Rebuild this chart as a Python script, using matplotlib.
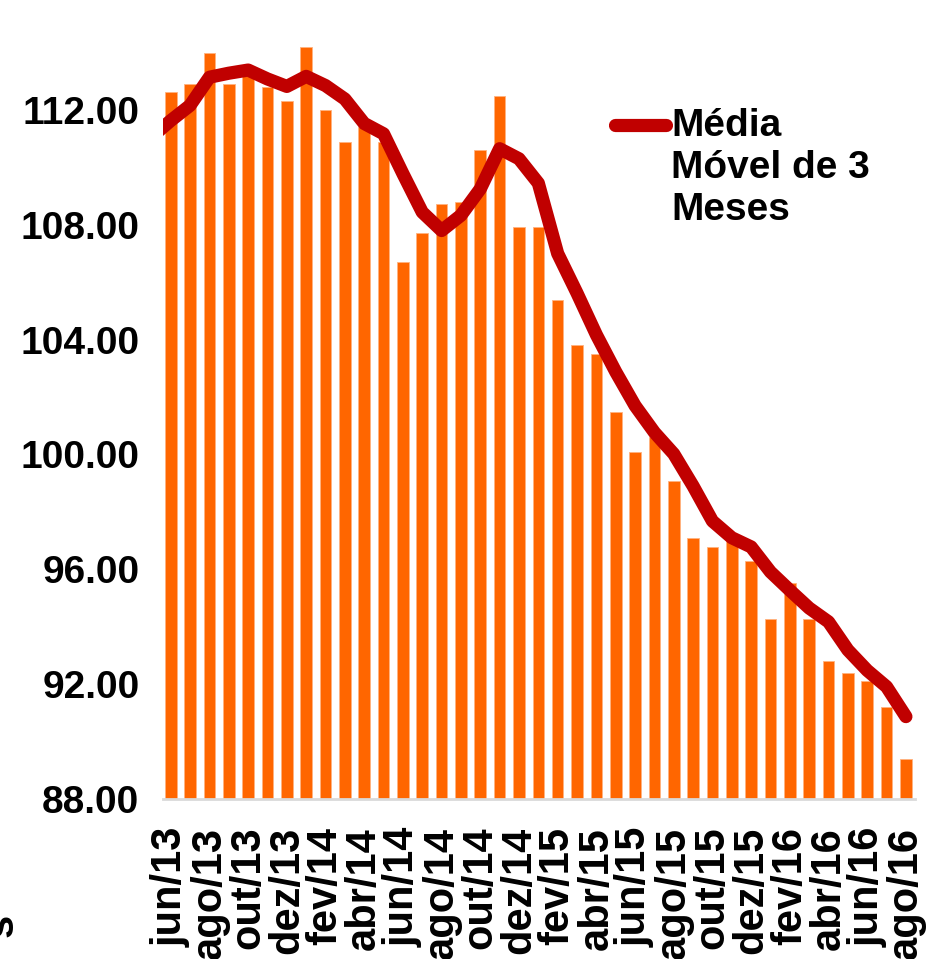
import matplotlib
matplotlib.use("Agg")
import matplotlib.pyplot as plt
from matplotlib.lines import Line2D

plt.rcParams['font.family'] = ['Liberation Sans', 'DejaVu Sans']

months = ['jun/13', 'jul/13', 'ago/13', 'set/13', 'out/13', 'nov/13', 'dez/13',
          'jan/14', 'fev/14', 'mar/14', 'abr/14', 'mai/14', 'jun/14', 'jul/14',
          'ago/14', 'set/14', 'out/14', 'nov/14', 'dez/14', 'jan/15', 'fev/15',
          'mar/15', 'abr/15', 'mai/15', 'jun/15', 'jul/15', 'ago/15', 'set/15',
          'out/15', 'nov/15', 'dez/15', 'jan/16', 'fev/16', 'mar/16', 'abr/16',
          'mai/16', 'jun/16', 'jul/16', 'ago/16']

index_values = [112.61, 112.91, 114.00, 112.91, 113.20, 112.80, 112.30, 114.20, 112.00, 110.90,
                111.40, 110.90, 106.70, 107.71, 108.71, 108.80, 110.61, 112.50, 107.91, 107.91,
                105.39, 103.80, 103.49, 101.48, 100.10, 100.61, 99.09, 97.08, 96.78, 97.20,
                96.28, 94.28, 95.51, 94.28, 92.79, 92.39, 92.10, 91.19, 89.38]

# moving average; first value belongs to the month before jun/13 (partly visible, clipped)
ma_prev = 111.05
moving_avg = [111.63, 112.16, 113.14, 113.28, 113.39, 113.08, 112.82, 113.17, 112.85, 112.38,
              111.53, 111.17, 109.78, 108.44, 107.80, 108.33, 109.25, 110.65, 110.30, 109.45,
              107.00, 105.62, 104.17, 102.88, 101.70, 100.77, 100.02, 98.90, 97.68, 97.10,
              96.78, 95.91, 95.27, 94.65, 94.17, 93.19, 92.48, 91.91, 90.87]

yticks = [88, 92, 96, 100, 104, 108, 112]
legend_label = "Média\nMóvel de 3\nMeses"

W, H = 942, 959
fig = plt.figure(figsize=(W / 100, H / 100), dpi=100)
ax = fig.add_axes([163 / W, 160 / H, (915 - 163) / W, (H - 160) / H])

x = list(range(len(months)))
ax.bar(x, [v - 88 for v in index_values], bottom=88, width=0.6,
       color='#FF6600', edgecolor='#FFB27F', linewidth=0.6, zorder=2)
ax.plot([-1] + x, [ma_prev] + moving_avg, color='#C00000', lw=9.5,
        solid_capstyle='round', solid_joinstyle='round', zorder=3)

ax.set_xlim(-0.40, 38.47)
ax.set_ylim(88, 115.83)

for s in ['top', 'right', 'left']:
    ax.spines[s].set_visible(False)
ax.spines['bottom'].set_color('#D9D9D9')
ax.spines['bottom'].set_linewidth(2)

ax.set_yticks(yticks)
ax.set_yticklabels([f"{v:.2f}" for v in yticks], fontsize=28, fontweight='bold')
ax.tick_params(axis='y', length=0, pad=17)

ax.set_xticks(x[::2])
ax.set_xticklabels(months[::2], rotation=90, fontsize=30, fontweight='bold',
                   va='top', ha='center')
ax.tick_params(axis='x', length=0, pad=20)

# legend
fig.add_artist(Line2D([615 / W, 666 / W], [1 - 125 / H, 1 - 125 / H], color='#C00000',
                      lw=9.5, solid_capstyle='round'))
fig.text(671 / W, 1 - 108 / H, legend_label, fontsize=28, fontweight='bold',
         va='top', ha='left', linespacing=1.22)

# fragment of a cut-off axis title at bottom left
fig.text(-19 / W, 1 - 937 / H, "s", rotation=90, fontsize=30, fontweight='bold',
         va='bottom', ha='left')

fig.savefig('out.png', dpi=100)
